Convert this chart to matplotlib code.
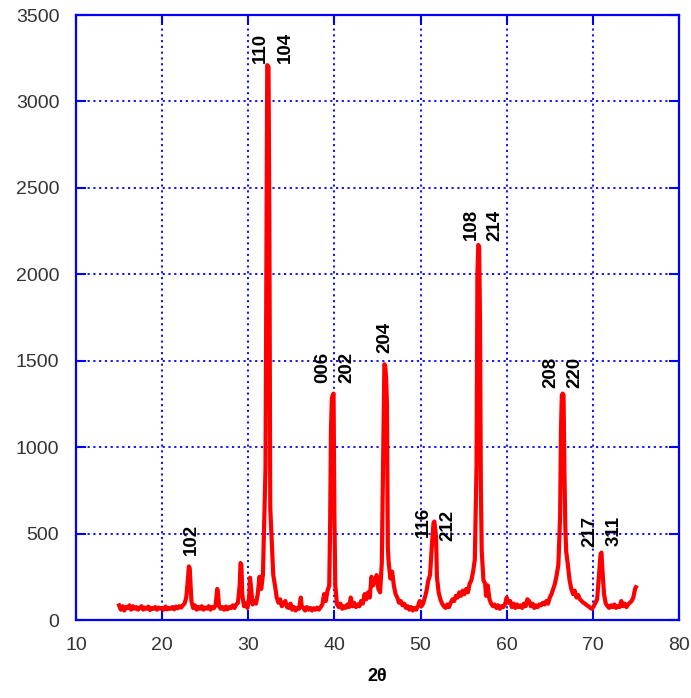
import matplotlib
matplotlib.use("Agg")
import matplotlib.pyplot as plt

plt.rcParams['font.family'] = ['Liberation Sans', 'DejaVu Sans']

# 2-theta (deg) and intensity
two_theta = [
    15.0, 15.2, 15.4, 15.6, 15.8, 16.0, 16.2, 16.4, 16.6, 16.8, 17.0, 17.2, 17.4, 17.6, 17.8,
    18.0, 18.2, 18.4, 18.6, 18.8, 19.0, 19.2, 19.4, 19.6, 19.8, 20.0, 20.2, 20.4, 20.6, 20.8,
    21.0, 21.2, 21.4, 21.6, 21.8, 22.0, 22.2, 22.4, 22.6, 22.8, 23.0, 23.1, 23.2, 23.3, 23.4,
    23.6, 23.8, 24.0, 24.2, 24.4, 24.6, 24.8, 25.0, 25.2, 25.4, 25.6, 25.8, 26.0, 26.2, 26.4,
    26.5, 26.6, 26.8, 27.0, 27.2, 27.4, 27.6, 27.8, 28.0, 28.2, 28.4, 28.6, 28.8, 29.0, 29.1,
    29.2, 29.3, 29.5, 29.7, 29.9, 30.1, 30.2, 30.3, 30.5, 30.7, 30.9, 31.1, 31.3, 31.5, 31.7,
    31.9, 32.0, 32.1, 32.2, 32.35, 32.45, 32.55, 32.7, 32.9, 33.1, 33.3, 33.5, 33.7, 33.9, 34.1,
    34.3, 34.5, 34.7, 34.9, 35.1, 35.3, 35.5, 35.7, 35.9, 36.1, 36.2, 36.4, 36.6, 36.8, 37.0,
    37.2, 37.4, 37.6, 37.8, 38.0, 38.2, 38.4, 38.6, 38.8, 39.0, 39.2, 39.4, 39.5, 39.6, 39.7,
    39.8, 39.9, 40.0, 40.1, 40.3, 40.5, 40.7, 40.9, 41.1, 41.3, 41.5, 41.7, 41.9, 42.1, 42.3,
    42.5, 42.7, 42.9, 43.1, 43.3, 43.5, 43.7, 43.9, 44.1, 44.3, 44.5, 44.7, 44.9, 45.1, 45.3,
    45.5, 45.7, 45.8, 45.9, 46.0, 46.1, 46.2, 46.3, 46.5, 46.7, 46.9, 47.1, 47.3, 47.5, 47.7,
    47.9, 48.1, 48.3, 48.5, 48.7, 48.9, 49.1, 49.3, 49.5, 49.7, 49.9, 50.1, 50.3, 50.5, 50.7,
    50.9, 51.1, 51.3, 51.5, 51.6, 51.8, 51.9, 52.1, 52.3, 52.5, 52.7, 52.9, 53.1, 53.3, 53.5,
    53.7, 53.9, 54.1, 54.3, 54.5, 54.7, 54.9, 55.1, 55.3, 55.5, 55.7, 55.9, 56.1, 56.3, 56.5,
    56.6, 56.7, 56.8, 56.9, 57.0, 57.1, 57.3, 57.5, 57.6, 57.8, 58.0, 58.2, 58.4, 58.6, 58.8,
    59.0, 59.2, 59.4, 59.6, 59.8, 60.0, 60.2, 60.4, 60.6, 60.8, 61.0, 61.2, 61.4, 61.6, 61.8,
    62.0, 62.2, 62.4, 62.6, 62.8, 63.0, 63.2, 63.4, 63.6, 63.8, 64.0, 64.2, 64.4, 64.6, 64.8,
    65.0, 65.2, 65.4, 65.6, 65.8, 66.0, 66.2, 66.3, 66.4, 66.5, 66.6, 66.7, 66.8, 66.9, 67.1,
    67.3, 67.5, 67.7, 67.9, 68.1, 68.3, 68.5, 68.7, 68.9, 69.1, 69.3, 69.5, 69.7, 69.9, 70.1,
    70.3, 70.5, 70.7, 70.9, 71.0, 71.1, 71.3, 71.5, 71.7, 71.9, 72.1, 72.3, 72.5, 72.7, 72.9,
    73.1, 73.3, 73.5, 73.7, 73.9, 74.1, 74.3, 74.5, 74.7, 74.9, 75.0,
]
intensity = [
    85, 60, 80, 55, 75, 70, 85, 60, 80, 65, 75, 60, 70, 80, 60,
    72, 65, 78, 58, 70, 65, 75, 60, 72, 66, 70, 60, 78, 62, 70,
    65, 75, 62, 78, 68, 80, 72, 85, 95, 130, 240, 310, 300, 210, 110,
    70, 85, 60, 75, 65, 80, 60, 72, 66, 80, 60, 75, 68, 85, 180,
    150, 80, 65, 75, 60, 78, 62, 75, 70, 85, 70, 90, 100, 200, 330,
    320, 150, 80, 95, 70, 130, 245, 200, 90, 110, 95, 150, 250, 180, 260,
    660, 880, 2080, 3210, 3200, 2270, 650, 480, 260, 200, 130, 100, 120, 80, 95,
    110, 75, 70, 95, 60, 75, 55, 70, 65, 130, 80, 70, 55, 75, 60,
    70, 55, 68, 60, 72, 60, 75, 90, 150, 110, 170, 200, 550, 1100, 1280,
    1300, 1310, 600, 200, 90, 75, 95, 65, 80, 70, 90, 75, 130, 80, 100,
    75, 90, 80, 110, 95, 150, 120, 160, 130, 250, 200, 230, 260, 180, 160,
    330, 1100, 1480, 1470, 1400, 1250, 420, 330, 240, 280, 200, 150, 130, 100, 110,
    85, 95, 70, 80, 60, 75, 55, 70, 60, 80, 110, 80, 95, 130, 170,
    230, 260, 420, 560, 570, 480, 250, 160, 120, 95, 80, 70, 90, 75, 100,
    120, 110, 140, 130, 160, 140, 170, 150, 180, 160, 210, 230, 280, 350, 900,
    2000, 2170, 2160, 1750, 770, 400, 230, 210, 140, 200, 120, 95, 80, 90, 70,
    85, 65, 80, 75, 90, 130, 100, 110, 75, 95, 70, 90, 75, 85, 70,
    95, 80, 120, 110, 80, 95, 70, 85, 75, 90, 85, 100, 90, 110, 95,
    130, 150, 180, 210, 260, 320, 600, 1100, 1300, 1310, 1300, 870, 550, 400, 320,
    230, 180, 150, 170, 130, 145, 120, 110, 100, 95, 85, 80, 70, 65, 80,
    100, 120, 250, 380, 390, 300, 150, 95, 80, 70, 85, 75, 90, 70, 80,
    75, 110, 80, 95, 75, 90, 100, 110, 130, 180, 190,
]

# Miller index labels and where they sit (2theta, intensity of text bottom)
hkl_labels = ["102", "110", "104", "006", "202", "204", "116", "212",
              "108", "214", "208", "220", "217", "311"]
hkl_x = [23.35, 31.4, 34.3, 38.6, 41.5, 45.9, 50.3, 53.2,
         55.9, 58.6, 65.1, 67.9, 69.7, 72.5]
hkl_y = [376, 3225, 3225, 1370, 1370, 1545, 480, 460,
         2200, 2190, 1340, 1340, 420, 430]

BLUE = "#0000ff"
RED = "#ff0000"

fig = plt.figure(figsize=(6.91, 6.98), dpi=100)
ax = fig.add_axes([0.110, 0.1117, 0.8726, 0.8668])

ax.plot(two_theta, intensity, color=RED, linewidth=3.0, zorder=3)

for lab, x, y in zip(hkl_labels, hkl_x, hkl_y):
    ax.text(x, y, lab, rotation=90, ha="center", va="bottom",
            fontsize=13.5, fontweight="bold", color="black", zorder=4)

ax.set_xlim(10, 80)
ax.set_ylim(0, 3500)
ax.set_xticks(range(10, 81, 10))
ax.set_yticks(range(0, 3501, 500))

ax.grid(True, color=BLUE, linestyle=(0, (1.2, 2.0)), linewidth=1.3, zorder=1)
for s in ax.spines.values():
    s.set_color(BLUE)
    s.set_linewidth(1.6)

ax.tick_params(axis="both", direction="in", length=7, width=1.5, color=BLUE,
               labelsize=14, labelcolor="#333333", pad=12,
               top=True, right=True)

ax.set_xlabel("2θ", fontsize=13, fontweight="bold", labelpad=10)

fig.savefig("out.png", dpi=100)
